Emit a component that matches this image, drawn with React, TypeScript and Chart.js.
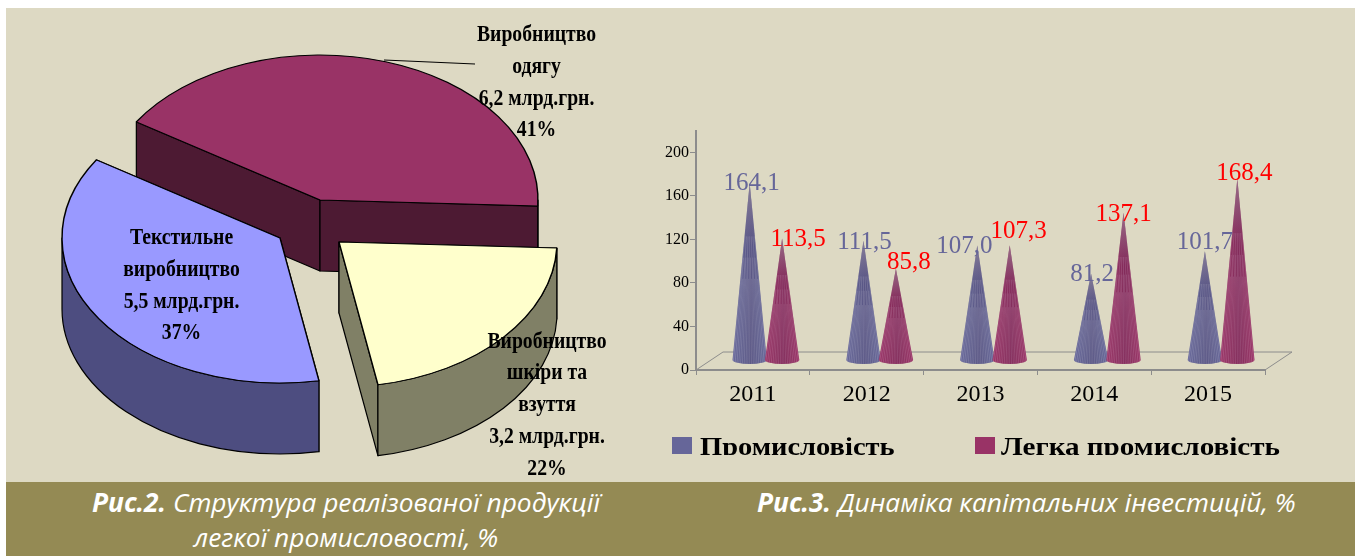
import React, { useEffect, useRef } from "react";
import { Chart, registerables } from "chart.js";

Chart.register(...registerables);

// ---------- data: pie ----------
const pieNames = ["Виробництво одягу", "Виробництво шкіри та взуття", "Текстильне виробництво"];
const pieValues = [6.2, 3.2, 5.5];
const pieShares = [41, 22, 37];
const pieNameLines = [
  ["Виробництво", "одягу"],
  ["Виробництво", "шкіри та", "взуття"],
  ["Текстильне", "виробництво"],
];
const pieUnit = "млрд.грн.";

// ---------- data: cones ----------
const years = ["2011", "2012", "2013", "2014", "2015"];
const industry = [164.1, 111.5, 107.0, 81.2, 101.7];
const lightIndustry = [113.5, 85.8, 107.3, 137.1, 168.4];
const seriesNames = ["Промисловість", "Легка промисловість"];
const yMax = 220;
const yStep = 40;

// ---------- captions ----------
const captionBold = ["Рис.2.", "Рис.3."];
const captionLines = ["Структура реалізованої продукції", "легкої промисловості, %", "Динаміка капітальних інвестицій, %"];

// ---------- style ----------
const BEIGE = "#DDD9C3";
const BAND = "#948A54";
const pieTops = ["#993366", "#FFFFCC", "#9999FF"];
const pieSides = ["#4D1A33", "#808066", "#4D4D80"];
const pieShift = [
  { dx: -5, dy: -41 },
  { dx: 14, dy: 1 },
  { dx: -45, dy: -3 },
];
const pieRx = 218;
const pieRy = 145;
const pieDepth = 71;
const pieLabelPlace = [
  { x: 536.5, y: 41 },
  { x: 547, y: 347.5 },
  { x: 181.5, y: 244 },
];
const pieLabelStep = 31.8;
const pieFont = 'bold 24px "Liberation Serif"';
const pieFontStretch = 0.82;

const seriesColors = ["#666699", "#993366"];
const seriesLight = ["rgba(190,190,215,", "rgba(215,150,185,"];
const labelColors = ["#666699", "#FF0000"];
// label nudges from the apex of each cone: [dx, dy]
const labelNudge = [
  [[15, -1], [14, 0], [0, -1], [14, -1], [13, -10]],
  [[29, 0], [26, -8], [22, -15], [13, 0], [20, -7]],
];

function fmt(v: number) {
  return v.toFixed(1).replace(".", ",");
}

const piePlugin = {
  id: "pie3d",
  beforeDatasetDraw(chart: any) {
    const ctx = chart.ctx;
    const meta = chart.getDatasetMeta(0);
    meta.data.forEach((el: any, i: number) => {
      const X = el.x + pieShift[i].dx;
      const Y = el.y + pieShift[i].dy;
      const a0 = el.startAngle;
      const a1 = el.endAngle;
      const px = (a: number) => X + pieRx * Math.cos(a);
      const py = (a: number) => Y + pieRy * Math.sin(a);
      ctx.save();
      ctx.fillStyle = pieSides[i];
      ctx.strokeStyle = "#000";
      ctx.lineWidth = 1.2;
      ctx.lineJoin = "round";
      [a0, a1].forEach((a) => {
        ctx.beginPath();
        ctx.moveTo(X, Y);
        ctx.lineTo(px(a), py(a));
        ctx.lineTo(px(a), py(a) + pieDepth);
        ctx.lineTo(X, Y + pieDepth);
        ctx.closePath();
        ctx.fill();
        ctx.stroke();
      });
      for (let k = -1; k <= 2; k++) {
        const s = Math.max(a0, k * 2 * Math.PI);
        const e = Math.min(a1, k * 2 * Math.PI + Math.PI);
        if (e <= s) continue;
        ctx.beginPath();
        ctx.ellipse(X, Y, pieRx, pieRy, 0, s, e);
        ctx.ellipse(X, Y + pieDepth, pieRx, pieRy, 0, e, s, true);
        ctx.closePath();
        ctx.fill();
        ctx.stroke();
      }
      ctx.restore();
      ctx.save();
      ctx.translate(X, Y);
      ctx.scale(pieRx / el.outerRadius, pieRy / el.outerRadius);
      ctx.translate(-el.x, -el.y);
      el.draw(ctx);
      ctx.restore();
    });
    return false;
  },
  afterDatasetsDraw(chart: any) {
    const ctx = chart.ctx;
    ctx.save();
    ctx.strokeStyle = "#000";
    ctx.lineWidth = 1;
    ctx.beginPath();
    ctx.moveTo(384, 60);
    ctx.lineTo(475, 64);
    ctx.stroke();
    ctx.fillStyle = "#000";
    ctx.font = pieFont;
    ctx.textAlign = "center";
    ctx.textBaseline = "alphabetic";
    pieNames.forEach((_, i) => {
      const lines = [...pieNameLines[i], `${fmt(pieValues[i])} ${pieUnit}`, `${pieShares[i]}%`];
      lines.forEach((line, j) => {
        ctx.save();
        ctx.translate(pieLabelPlace[i].x, pieLabelPlace[i].y + j * pieLabelStep);
        ctx.scale(pieFontStretch, 1);
        ctx.fillText(line, 0, 0);
        ctx.restore();
      });
    });
    ctx.restore();
  },
};

const CONE_DX = 13;
const CONE_DY = 8;
const FLOOR_DX = 27;
const FLOOR_DY = 18;

function drawCone(ctx: any, cx: number, apexY: number, baseY: number, rx: number, ry: number, color: string, light: string) {
  ctx.save();
  ctx.beginPath();
  ctx.moveTo(cx, apexY);
  ctx.lineTo(cx + rx, baseY);
  ctx.ellipse(cx, baseY, rx, ry, 0, 0, Math.PI);
  ctx.closePath();
  ctx.clip();
  ctx.fillStyle = color;
  ctx.fillRect(cx - rx - 1, apexY - 1, 2 * rx + 2, baseY - apexY + ry + 2);
  const N = 9;
  ctx.lineWidth = 0.8;
  ctx.strokeStyle = light + "0.4)";
  const h0 = baseY - apexY;
  for (let i = -N; i <= N; i++) {
    const u = i / (N + 0.5);
    const t = 0.3 + ((i + N) % 3) * 0.12;
    ctx.beginPath();
    ctx.moveTo(cx + rx * u * t, apexY + h0 * t);
    ctx.lineTo(cx + rx * u, baseY + ry * Math.sqrt(1 - u * u));
    ctx.stroke();
  }
  const h = ctx.createLinearGradient(cx - rx, 0, cx + rx, 0);
  h.addColorStop(0, "rgba(0,0,0,0)");
  h.addColorStop(0.55, "rgba(30,10,40,0.18)");
  h.addColorStop(1, "rgba(0,0,0,0)");
  ctx.fillStyle = h;
  ctx.fillRect(cx - rx - 1, apexY - 1, 2 * rx + 2, baseY - apexY + ry + 2);
  const v = ctx.createLinearGradient(0, apexY, 0, apexY + (baseY - apexY) * 0.35);
  v.addColorStop(0, "rgba(165,150,165,0.6)");
  v.addColorStop(1, "rgba(165,150,165,0)");
  ctx.fillStyle = v;
  ctx.fillRect(cx - rx - 1, apexY - 1, 2 * rx + 2, baseY - apexY + ry + 2);
  ctx.restore();
}

const conePlugin = {
  id: "cones",
  beforeDatasetDraw() {
    return false;
  },
  beforeDatasetsDraw(chart: any) {
    const { ctx, chartArea, scales } = chart;
    const y0 = scales.y.getPixelForValue(0);
    ctx.save();
    ctx.strokeStyle = "#8C8C8C";
    ctx.lineWidth = 1;
    ctx.beginPath();
    ctx.moveTo(chartArea.left, y0);
    ctx.lineTo(chartArea.left + FLOOR_DX, y0 - FLOOR_DY);
    ctx.lineTo(chartArea.right + FLOOR_DX, y0 - FLOOR_DY);
    ctx.lineTo(chartArea.right, y0);
    ctx.stroke();
    ctx.restore();
  },
  afterDatasetsDraw(chart: any) {
    const { ctx, scales } = chart;
    const y0 = scales.y.getPixelForValue(0);
    const metas = [chart.getDatasetMeta(0), chart.getDatasetMeta(1)];
    years.forEach((_, c) => {
      metas.forEach((meta, s) => {
        const el = meta.data[c];
        const rx = el.width * 0.53;
        drawCone(ctx, el.x + CONE_DX, el.y - CONE_DY, y0 - 10, rx, 4, seriesColors[s], seriesLight[s]);
      });
    });
    ctx.save();
    ctx.font = '25px "Liberation Serif"';
    ctx.textAlign = "center";
    ctx.textBaseline = "alphabetic";
    metas.forEach((meta, s) => {
      ctx.fillStyle = labelColors[s];
      meta.data.forEach((el: any, c: number) => {
        const v = chart.data.datasets[s].data[c];
        const [dx, dy] = labelNudge[s][c];
        ctx.fillText(fmt(v), el.x + dx, el.y + dy);
      });
    });
    ctx.restore();
  },
  afterDraw(chart: any) {
    const { ctx } = chart;
    ctx.save();
    ctx.font = 'bold 26px "Liberation Serif"';
    ctx.textBaseline = "alphabetic";
    ctx.textAlign = "left";
    const items = [
      { box: 22, text: 50, stretch: 1.095 },
      { box: 325, text: 351, stretch: 1.12 },
    ];
    chart.data.datasets.forEach((ds: any, i: number) => {
      ctx.fillStyle = ds.backgroundColor;
      ctx.fillRect(items[i].box, 317, 20, 17);
      ctx.fillStyle = "#000";
      ctx.save();
      ctx.translate(items[i].text, 335);
      ctx.scale(items[i].stretch, 1);
      ctx.fillText(ds.label, 0, 0);
      ctx.restore();
    });
    ctx.restore();
  },
};

function PieChart() {
  const ref = useRef<HTMLCanvasElement>(null);
  useEffect(() => {
    const chart = new Chart(ref.current!, {
      type: "pie",
      data: {
        labels: pieNames,
        datasets: [
          {
            data: pieValues,
            backgroundColor: pieTops,
            borderColor: "#000",
            borderWidth: 1.6,
            hoverOffset: 0,
          },
        ],
      },
      options: {
        responsive: false,
        animation: false,
        rotation: -57.4,
        layout: { padding: 0 },
        plugins: { legend: { display: false }, tooltip: { enabled: false } },
      },
      plugins: [piePlugin],
    } as any);
    return () => chart.destroy();
  }, []);
  return <canvas ref={ref} width={650} height={482} style={{ position: "absolute", left: 0, top: 0, display: "block" }} />;
}

function ConeChart() {
  const ref = useRef<HTMLCanvasElement>(null);
  useEffect(() => {
    const chart = new Chart(ref.current!, {
      type: "bar",
      data: {
        labels: years,
        datasets: [
          { label: seriesNames[0], data: industry, backgroundColor: seriesColors[0], categoryPercentage: 0.57, barPercentage: 1 },
          { label: seriesNames[1], data: lightIndustry, backgroundColor: seriesColors[1], categoryPercentage: 0.57, barPercentage: 1 },
        ],
      },
      options: {
        responsive: false,
        animation: false,
        layout: { padding: { top: 8, right: 90, left: 0, bottom: 0 }, autoPadding: false },
        plugins: { legend: { display: false }, tooltip: { enabled: false } },
        scales: {
          x: {
            afterFit: (s: any) => {
              s.height = 85;
            },
            border: { color: "#8C8C8C", width: 2 },
            grid: { drawOnChartArea: false, drawTicks: true, tickLength: 5, color: "#8C8C8C" },
            ticks: {
              color: "#000",
              padding: 5,
              maxRotation: 0,
              font: { family: "Liberation Serif", size: 24 },
            },
          },
          y: {
            min: 0,
            max: yMax,
            afterFit: (s: any) => {
              s.width = 46;
            },
            border: { color: "#8C8C8C", width: 2 },
            grid: { drawOnChartArea: false, drawTicks: true, tickLength: 6, color: "#8C8C8C" },
            ticks: {
              stepSize: yStep,
              includeBounds: false,
              color: "#000",
              padding: 1,
              font: { family: "Liberation Serif", size: 16 },
            },
          },
        },
      },
      plugins: [conePlugin],
    } as any);
    return () => chart.destroy();
  }, []);
  return <canvas ref={ref} width={705} height={335} style={{ position: "absolute", left: 650, top: 120, display: "block" }} />;
}

function Caption({ x, y, bold, text }: { x: number; y: number; bold?: string; text: string }) {
  return (
    <div
      style={{
        position: "absolute",
        left: x,
        top: y,
        whiteSpace: "nowrap",
        color: "#fff",
        fontFamily: '"Open Sans", sans-serif',
        fontStyle: "italic",
        fontSize: 26.3,
        lineHeight: "32px",
      }}
    >
      {bold ? <b>{bold} </b> : null}
      {text}
    </div>
  );
}

export default function App() {
  return (
    <div style={{ position: "fixed", left: 0, top: 0, width: 1355, height: 556, background: "#fff", overflow: "hidden" }}>
      <div style={{ position: "absolute", left: 6, top: 8, right: 0, height: 474, background: BEIGE }} />
      <div style={{ position: "absolute", left: 6, top: 482, right: 0, bottom: 0, background: BAND }} />
      <PieChart />
      <ConeChart />
      <Caption x={92} y={486} bold={captionBold[0]} text={captionLines[0]} />
      <Caption x={194} y={521} text={captionLines[1]} />
      <Caption x={757} y={486} bold={captionBold[1]} text={captionLines[2]} />
    </div>
  );
}
